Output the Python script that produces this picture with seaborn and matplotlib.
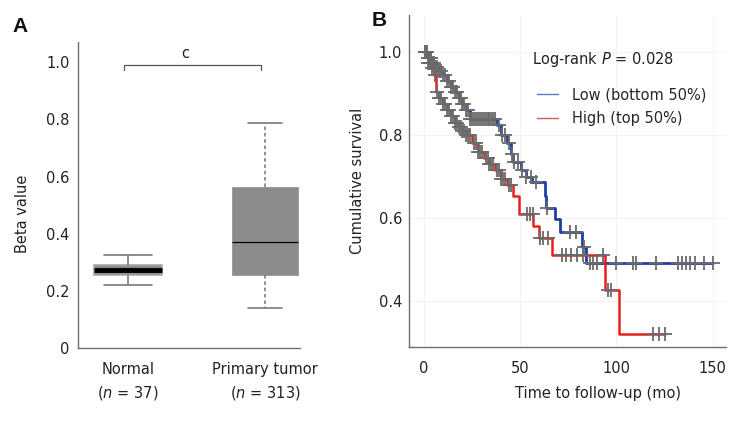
import numpy as np
import pandas as pd
import matplotlib
matplotlib.use("Agg")
import matplotlib.pyplot as plt
import seaborn as sns

# ---------- data: panel A (box summary) ----------
groups = ["Normal", "Primary tumor"]
group_labels = ["Normal\n($\\it{n}$ = 37)", "Primary tumor\n($\\it{n}$ = 313)"]
# min, q1, median, q3, max
normal_stats = [0.22, 0.255, 0.273, 0.29, 0.325]
tumor_stats = [0.14, 0.255, 0.372, 0.562, 0.787]

# ---------- data: panel B (Kaplan-Meier steps) ----------
low_times = [0, 2, 4, 6, 8, 10, 12, 14, 16, 18, 20, 22, 24, 38, 40, 43, 45, 46.5,
             50.5, 53, 56, 62.8, 63.5, 68, 70.6, 81.9, 84.1, 150]
low_surv = [1.0, 0.985, 0.975, 0.965, 0.955, 0.945, 0.93, 0.915, 0.905, 0.89, 0.875,
            0.86, 0.84, 0.825, 0.80, 0.78, 0.755, 0.735, 0.715, 0.70, 0.686, 0.653,
            0.625, 0.597, 0.566, 0.53, 0.493, 0.493]
low_censor = [0.5, 1, 1.5, 2, 3, 3.5, 4, 5, 6, 7, 8, 9, 10, 11, 12, 13, 14, 15, 16, 17,
              18, 19, 20, 21, 22, 23, 24, 25, 26, 27, 28, 29, 30, 31, 32, 33, 34, 35,
              36, 37, 39, 40.5, 42, 44, 45.5, 47, 49, 51, 53, 55.5, 58, 64, 76, 79,
              83, 86, 88, 90, 100, 108.5, 110, 120.5, 132, 134, 136, 138, 141, 145.5, 150]

high_times = [0, 2, 4, 5, 6, 8, 10, 12, 14, 16, 18, 20, 22, 25, 28, 31, 34, 37, 40,
              43, 46.4, 49.5, 56.7, 60, 66.3, 94.3, 101.2, 125]
high_surv = [1.0, 0.975, 0.963, 0.946, 0.905, 0.89, 0.875, 0.86, 0.845, 0.83, 0.82,
             0.81, 0.80, 0.78, 0.76, 0.745, 0.73, 0.715, 0.695, 0.68, 0.653, 0.609,
             0.58, 0.553, 0.512, 0.428, 0.322, 0.322]
high_censor = [0.5, 1, 2, 3, 4, 5.5, 7, 8, 9, 10, 11, 12, 13, 14, 15, 16, 17, 18, 19,
               20, 21, 22, 23, 24, 26, 27, 28, 29, 30, 32, 33, 34, 35, 36, 38, 39, 40,
               41, 42, 44, 45, 53.3, 55, 56.6, 60.2, 62, 64.4, 71.5, 74, 76.5, 79.3,
               82.5, 93, 95.6, 97.4, 119, 122, 125]

sns.set_style("white")
plt.rcParams["font.family"] = ["DejaVu Sans"]
plt.rcParams["mathtext.fontset"] = "dejavusans"
txt = "#222222"
spine = "#6e6e6e"
fs = 10.5

fig = plt.figure(figsize=(7.56, 4.23), dpi=100)
axA = fig.add_axes([0.103, 0.177, 0.294, 0.723])
axB = fig.add_axes([0.541, 0.180, 0.419, 0.785])

# ---------- Panel A: box plot ----------
box_df = pd.DataFrame({
    "group": [groups[0]] * 5 + [groups[1]] * 5,
    "beta": normal_stats + tumor_stats,
})
box_fill = "#8c8c8c"
n0 = len(axA.lines)
sns.boxplot(data=box_df[box_df.group == groups[0]], x="group", y="beta", order=groups,
            whis=np.inf, width=0.49, color=box_fill, ax=axA,
            boxprops=dict(facecolor=box_fill, edgecolor="#a8a8a8", linewidth=1.2),
            whiskerprops=dict(color="#7a7a7a", linewidth=1.2),
            capprops=dict(color="#7a7a7a", linewidth=1.2),
            medianprops=dict(color="black", linewidth=3.5))
normal_lines = axA.lines[n0:]
n1 = len(axA.lines)
sns.boxplot(data=box_df[box_df.group == groups[1]], x="group", y="beta", order=groups,
            whis=np.inf, width=0.48, color=box_fill, ax=axA,
            boxprops=dict(facecolor=box_fill, edgecolor=box_fill, linewidth=0.5),
            whiskerprops=dict(color="#8a8a8a", linewidth=1.3, linestyle=(0, (2, 1.5))),
            capprops=dict(color="#7a7a7a", linewidth=1.2),
            medianprops=dict(color="black", linewidth=0.9))
tumor_lines = axA.lines[n1:]

# cap widths
def set_caps(lines, center, half):
    for ln in lines:
        xd = np.asarray(ln.get_xdata(), dtype=float)
        yd = np.asarray(ln.get_ydata(), dtype=float)
        if len(xd) == 2 and yd[0] == yd[1] and ln.get_color() != "black":
            ln.set_xdata([center - half, center + half])

set_caps(normal_lines, 0, 0.175)
set_caps(tumor_lines, 1, 0.125)

# significance bracket
axA.plot([-0.03, -0.03, 0.97, 0.97], [0.972, 0.99, 0.99, 0.972], color="#555555", lw=0.9)
axA.text(0.42, 1.005, "c", ha="center", va="bottom", fontsize=fs, color=txt)

axA.set_xlim(-0.365, 1.255)
axA.set_ylim(0, 1.07)
axA.set_yticks([0, 0.2, 0.4, 0.6, 0.8, 1.0])
axA.set_yticklabels(["0", "0.2", "0.4", "0.6", "0.8", "1.0"])
axA.set_xticks([0, 1])
axA.set_xticklabels(group_labels, linespacing=1.5)
axA.tick_params(axis="x", direction="in", length=6, width=1, color=spine, pad=10,
                labelsize=fs, labelcolor=txt)
axA.tick_params(axis="y", length=0, pad=6, labelsize=fs, labelcolor=txt)
axA.set_xlabel("")
axA.set_ylabel("Beta value", fontsize=fs, color=txt)
axA.yaxis.set_label_coords(-0.215, 0.438)
for s in ["top", "right"]:
    axA.spines[s].set_visible(False)
for s in ["left", "bottom"]:
    axA.spines[s].set_color(spine)
    axA.spines[s].set_linewidth(1)

# ---------- Panel B: Kaplan-Meier ----------
def step_value(times, surv, t):
    idx = np.searchsorted(np.asarray(times), t, side="right") - 1
    return np.asarray(surv)[idx]

low_df = pd.DataFrame({"time": low_times, "surv": low_surv})
high_df = pd.DataFrame({"time": high_times, "surv": high_surv})
sns.lineplot(data=low_df, x="time", y="surv", drawstyle="steps-post", color="#1f3fa8",
             lw=2.0, estimator=None, sort=False, ax=axB)
sns.lineplot(data=high_df, x="time", y="surv", drawstyle="steps-post", color="#e8201c",
             lw=1.8, estimator=None, sort=False, ax=axB)

cens_df = pd.DataFrame({
    "time": low_censor + high_censor,
    "surv": list(step_value(low_times, low_surv, np.array(low_censor)))
    + list(step_value(high_times, high_surv, np.array(high_censor))),
})
sns.scatterplot(data=cens_df, x="time", y="surv", marker="+", s=90, color="#6a6a6a",
                linewidth=1.3, ax=axB, zorder=3)

# legend handles
axB.plot([], [], color="#5a7cc4", lw=1, label="Low (bottom 50%)")
axB.plot([], [], color="#e05555", lw=1, label="High (top 50%)")
handles, labels = axB.get_legend_handles_labels()
axB.legend(handles[-2:], labels[-2:], frameon=False, fontsize=fs, loc="upper left",
           bbox_to_anchor=(0.386, 0.80), handlelength=1.45, handletextpad=0.95,
           labelspacing=0.62, borderaxespad=0)
axB.text(0.389, 0.864, "Log-rank $\\it{P}$ = 0.028", transform=axB.transAxes,
         fontsize=fs, color=txt, ha="left", va="center")

axB.set_xlim(-7.8, 156.8)
axB.set_ylim(0.29, 1.09)
axB.set_xticks([0, 50, 100, 150])
axB.set_yticks([0.4, 0.6, 0.8, 1.0])
axB.set_yticklabels(["0.4", "0.6", "0.8", "1.0"])
axB.grid(True, color="#f3f3f3", lw=0.8)
axB.tick_params(axis="both", direction="in", length=6, width=1, color=spine,
                labelsize=fs, labelcolor=txt)
axB.tick_params(axis="x", pad=10)
axB.tick_params(axis="y", pad=5)
axB.set_xlabel("Time to follow-up (mo)", fontsize=fs, color=txt)
axB.xaxis.set_label_coords(0.596, -0.117)
axB.xaxis.label.set_va("top")
axB.set_ylabel("Cumulative survival", fontsize=fs, color=txt)
axB.yaxis.set_label_coords(-0.14, 0.5)
for s in ["top", "right"]:
    axB.spines[s].set_visible(False)
for s in ["left", "bottom"]:
    axB.spines[s].set_color(spine)
    axB.spines[s].set_linewidth(1)

# panel letters
fig.text(0.017, 0.96, "A", fontsize=15, fontweight="bold", family="Liberation Sans",
         color="#111111", va="top")
fig.text(0.492, 0.975, "B", fontsize=15, fontweight="bold", family="Liberation Sans",
         color="#111111", va="top")

fig.savefig("out.png", dpi=100)
